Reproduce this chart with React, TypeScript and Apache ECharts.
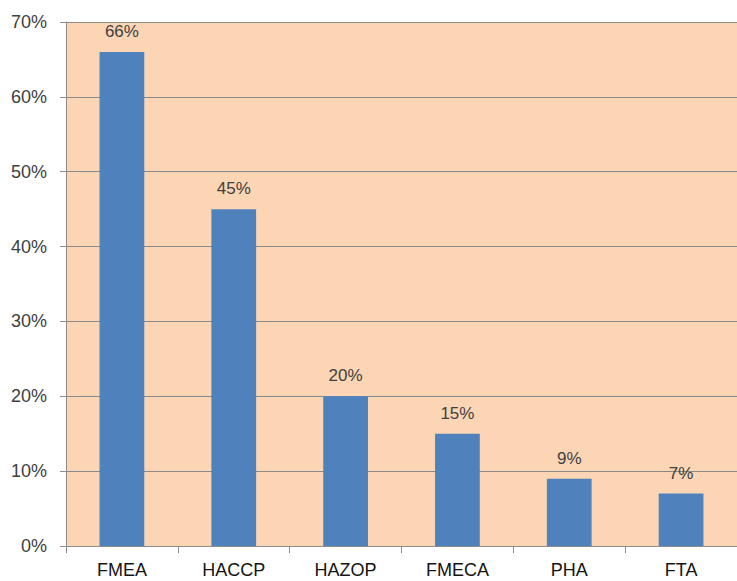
import React, { useEffect, useRef } from "react";
import * as echarts from "echarts";

// Share of studies using each risk-analysis method (%)
const methods = ["FMEA", "HACCP", "HAZOP", "FMECA", "PHA", "FTA"];
const shares = [66, 45, 20, 15, 9, 7];

export default function App() {
  const ref = useRef<HTMLDivElement>(null);

  useEffect(() => {
    if (!ref.current) return;
    const chart = echarts.init(ref.current, undefined, { renderer: "svg" });
    chart.setOption({
      animation: false,
      backgroundColor: "#ffffff",
      grid: {
        left: 66,
        top: 22,
        right: 0,
        bottom: 35,
        show: true,
        backgroundColor: "#FCD5B5",
        borderWidth: 0,
      },
      xAxis: {
        type: "category",
        data: methods,
        axisLine: { show: true, lineStyle: { color: "#8c8c8c", width: 1 } },
        axisTick: { show: true, length: 7, lineStyle: { color: "#8c8c8c" } },
        axisLabel: {
          color: "#141414",
          fontSize: 18,
          fontFamily: "Liberation Sans, Arial, sans-serif",
          margin: 15,
        },
      },
      yAxis: {
        type: "value",
        min: 0,
        max: 70,
        interval: 10,
        axisLine: { show: true, lineStyle: { color: "#8c8c8c", width: 1 } },
        axisTick: { show: true, length: 6, lineStyle: { color: "#8c8c8c" } },
        splitLine: { show: true, lineStyle: { color: "#8a8a8a", width: 1 } },
        axisLabel: {
          color: "#404040",
          fontSize: 18,
          fontFamily: "Liberation Sans, Arial, sans-serif",
          margin: 19,
          formatter: "{value}%",
        },
      },
      series: [
        {
          type: "bar",
          data: shares,
          barWidth: "40%",
          itemStyle: { color: "#4F81BD" },
          label: {
            show: true,
            position: "top",
            distance: 12,
            color: "#404040",
            fontSize: 17,
            fontFamily: "Liberation Sans, Arial, sans-serif",
            formatter: "{c}%",
          },
        },
      ],
    });
    return () => chart.dispose();
  }, []);

  return (
    <div
      ref={ref}
      style={{ position: "fixed", left: 0, top: 0, width: 737, height: 581 }}
    />
  );
}
